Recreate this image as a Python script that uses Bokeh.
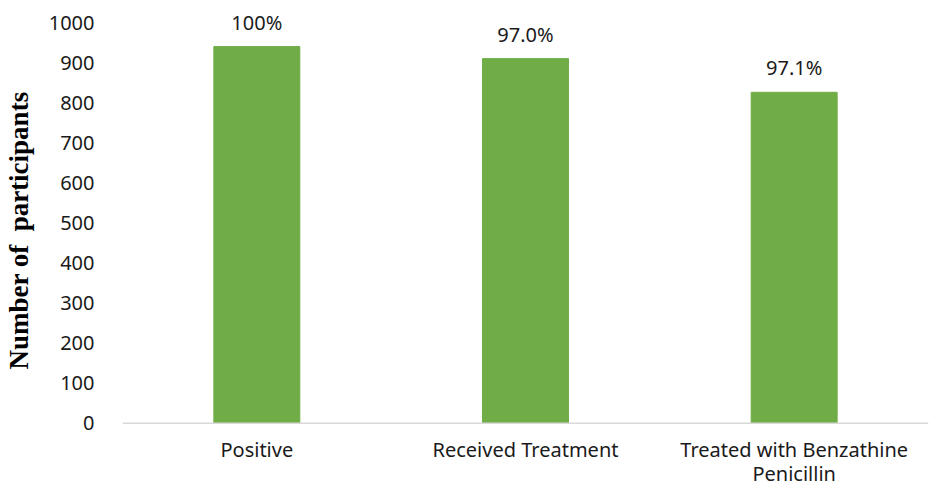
from bokeh.plotting import figure
from bokeh.models import ColumnDataSource, LabelSet, FixedTicker, FactorRange, Span
from bokeh.core.properties import value
from bokeh.embed import file_html
from bokeh.resources import INLINE

categories = ["Positive", "Received Treatment", "Treated with Benzathine\nPenicillin"]
counts = [940, 910, 826]
pct_labels = ["100%", "97.0%", "97.1%"]
y_ticks = [0, 100, 200, 300, 400, 500, 600, 700, 800, 900, 1000]

line1 = [c.split("\n")[0] for c in categories]
line2 = [c.split("\n")[1] if "\n" in c else "" for c in categories]

src = ColumnDataSource(dict(cat=categories, n=counts, lab=pct_labels, l1=line1, l2=line2))

p = figure(width=931, height=485, x_range=FactorRange(*categories, range_padding=0),
           y_range=(-155, 1050), output_backend="svg", toolbar_location=None,
           min_border_left=110, min_border_right=3, min_border_top=2, min_border_bottom=0)
p.outline_line_color = None
p.background_fill_color = "white"
p.border_fill_color = "white"
p.xgrid.grid_line_color = None
p.ygrid.grid_line_color = None

p.vbar(x="cat", top="n", width=0.32, source=src, fill_color="#70AD47", line_color="#70AD47")

baseline = Span(location=0, dimension="width", line_color="#D9D9D9", line_width=1.5)
p.add_layout(baseline)

labels = LabelSet(x="cat", y="n", text="lab", source=src, text_align="center",
                  text_baseline="alphabetic", y_offset=17, text_font=value("Noto Sans"),
                  text_font_size="20px", text_color="#1a1a1a")
p.add_layout(labels)

for col, off in (("l1", -13), ("l2", -37)):
    p.add_layout(LabelSet(x="cat", y=0, text=col, source=src, text_align="center",
                          text_baseline="top", y_offset=off, text_font=value("Noto Sans"),
                          text_font_size="20px", text_color="#1a1a1a"))

p.xaxis.visible = False

p.yaxis.ticker = FixedTicker(ticks=y_ticks)
p.yaxis.axis_line_color = None
p.yaxis.major_tick_line_color = None
p.yaxis.minor_tick_line_color = None
p.yaxis.major_label_text_font = "Noto Sans"
p.yaxis.major_label_text_font_size = "20px"
p.yaxis.major_label_text_color = "#1a1a1a"
p.yaxis.major_label_standoff = 22
p.yaxis.axis_label = "\u00a0\u00a0\u00a0\u00a0Number of\u00a0 participants"
p.yaxis.axis_label_text_font = "Liberation Serif"
p.yaxis.axis_label_text_font_style = "bold"
p.yaxis.axis_label_text_font_size = "27px"
p.yaxis.axis_label_text_color = "#000000"
p.yaxis.axis_label_standoff = 12

open("out.html", "w").write(file_html(p, INLINE))
